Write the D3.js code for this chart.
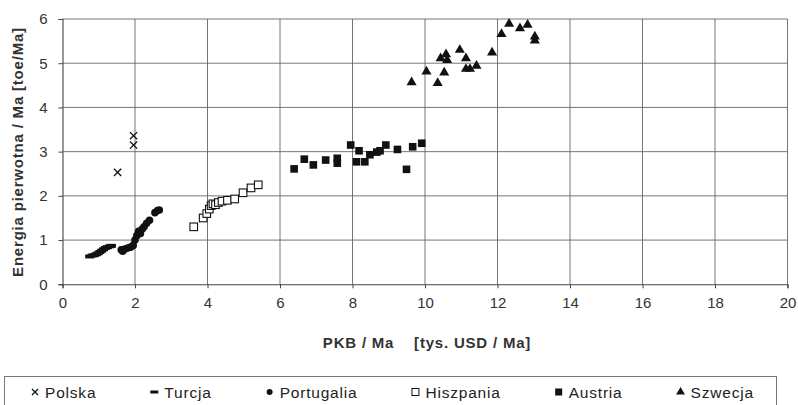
<!DOCTYPE html>
<html>
<head>
<meta charset="utf-8">
<script src="https://cdn.jsdelivr.net/npm/d3@7"></script>
<style>
  body { margin: 0; background: #fff; }
  svg { display: block; font-family: "Liberation Sans", Arial, sans-serif; }
</style>
</head>
<body>
<div id="chart"></div>
<script>
////////////////////////////  Data  ////////////////////////////
const seriesNames = ["Polska", "Turcja", "Portugalia", "Hiszpania", "Austria", "Szwecja"];

// [PKB, energia] per country
const polska = [[1.52, 2.53], [1.96, 3.15], [1.96, 3.36]];
const turcja = [
  [0.75, 0.63], [0.82, 0.65], [0.88, 0.66], [0.93, 0.68], [0.98, 0.70], [1.03, 0.73],
  [1.08, 0.76], [1.13, 0.79], [1.18, 0.82], [1.24, 0.84], [1.30, 0.86], [1.35, 0.87]
];
const portugalia = [
  [1.62, 0.78], [1.66, 0.75], [1.72, 0.80], [1.80, 0.82], [1.88, 0.84], [1.95, 0.88],
  [2.00, 1.00], [2.05, 1.10], [2.10, 1.20], [2.15, 1.15], [2.20, 1.25], [2.25, 1.30],
  [2.32, 1.38], [2.40, 1.45], [2.55, 1.62], [2.62, 1.67], [2.67, 1.68]
];
const hiszpania = [
  [3.62, 1.30], [3.88, 1.50], [3.98, 1.60], [4.05, 1.70], [4.10, 1.78], [4.15, 1.82],
  [4.22, 1.80], [4.30, 1.85], [4.40, 1.88], [4.55, 1.90], [4.75, 1.93], [4.98, 2.07],
  [5.20, 2.18], [5.40, 2.25]
];
const austria = [
  [6.39, 2.61], [6.67, 2.83], [6.92, 2.70], [7.26, 2.81], [7.58, 2.85], [7.58, 2.74],
  [7.95, 3.15], [8.18, 3.02], [8.11, 2.77], [8.34, 2.77], [8.48, 2.93], [8.67, 2.99],
  [8.76, 3.02], [8.92, 3.15], [9.24, 3.05], [9.49, 2.60], [9.66, 3.11], [9.91, 3.19]
];
const szwecja = [
  [9.63, 4.57], [10.04, 4.81], [10.35, 4.55], [10.53, 4.79], [10.43, 5.11], [10.58, 5.20],
  [10.61, 5.07], [10.96, 5.30], [11.13, 5.11], [11.13, 4.87], [11.24, 4.87], [11.42, 4.94],
  [11.85, 5.24], [12.11, 5.66], [12.32, 5.89], [12.62, 5.79], [12.83, 5.87], [13.03, 5.60],
  [13.03, 5.51]
];

const xTicks = [0, 2, 4, 6, 8, 10, 12, 14, 16, 18, 20];
const yTicks = [0, 1, 2, 3, 4, 5, 6];
const xTitle = "PKB / Ma\u00a0\u00a0\u00a0\u00a0[tys. USD / Ma]";
const yTitle = "Energia pierwotna / Ma [toe/Ma]";

////////////////////////////  Init  ////////////////////////////
const width = 798, height = 405;
const margin = { top: 19, right: 10.5, bottom: 120.7, left: 62.5 };
const innerW = width - margin.left - margin.right;
const innerH = height - margin.top - margin.bottom;
const ink = "#111";

const svg = d3.select("#chart").append("svg").attr("width", width).attr("height", height);
const g = svg.append("g").attr("transform", `translate(${margin.left},${margin.top})`);

const x = d3.scaleLinear().domain([0, 20]).range([0, innerW]);
const y = d3.scaleLinear().domain([0, 6]).range([innerH, 0]);

// grid
g.selectAll(".vgrid").data(xTicks.slice(1)).enter().append("line")
  .attr("x1", d => x(d)).attr("x2", d => x(d))
  .attr("y1", 0).attr("y2", innerH)
  .attr("stroke", "#666").attr("stroke-width", 0.9);
g.selectAll(".hgrid").data(yTicks.slice(1)).enter().append("line")
  .attr("x1", 0).attr("x2", innerW)
  .attr("y1", d => y(d)).attr("y2", d => y(d))
  .attr("stroke", "#666").attr("stroke-width", 0.9);

// axes
const xAxis = g.append("g").attr("transform", `translate(0,${innerH})`)
  .call(d3.axisBottom(x).tickValues(xTicks).tickFormat(d3.format("d")).tickSize(4).tickPadding(9));
const yAxis = g.append("g")
  .call(d3.axisLeft(y).tickValues(yTicks).tickFormat(d3.format("d")).tickSize(4).tickPadding(11));
[xAxis, yAxis].forEach(a => {
  a.select(".domain").attr("stroke", "#444").attr("stroke-width", 1.1);
  a.selectAll(".tick line").attr("stroke", "#444");
  a.selectAll("text").attr("font-size", 15).attr("fill", "#333")
    .attr("font-family", "Liberation Sans, Arial, sans-serif");
});

// titles
svg.append("text")
  .attr("x", 427).attr("y", 348)
  .attr("text-anchor", "middle")
  .attr("font-size", 15).attr("font-weight", "bold").attr("letter-spacing", 0.8).attr("fill", "#333")
  .text(xTitle);
svg.append("text")
  .attr("transform", `translate(23,152) rotate(-90)`)
  .attr("text-anchor", "middle")
  .attr("font-size", 15).attr("font-weight", "bold").attr("letter-spacing", 0.8).attr("fill", "#333")
  .text(yTitle);

////////////////////////////  Markers  ////////////////////////////
const drawX = (sel, s) => sel.append("path")
  .attr("d", `M${-s},${-s}L${s},${s}M${-s},${s}L${s},${-s}`)
  .attr("stroke", ink).attr("stroke-width", 1.3).attr("fill", "none");
const drawDash = (sel) => sel.append("rect")
  .attr("x", -4.5).attr("y", -2).attr("width", 9).attr("height", 4).attr("fill", ink);
const drawCircle = (sel) => sel.append("circle").attr("r", 3.8).attr("fill", ink);
const drawOpenSq = (sel) => sel.append("rect")
  .attr("x", -3.8).attr("y", -3.8).attr("width", 7.6).attr("height", 7.6)
  .attr("fill", "#fff").attr("stroke", ink).attr("stroke-width", 1.1);
const drawSq = (sel) => sel.append("rect")
  .attr("x", -3.8).attr("y", -3.8).attr("width", 7.6).attr("height", 7.6).attr("fill", ink);
const drawTri = (sel) => sel.append("path")
  .attr("d", d3.symbol(d3.symbolTriangle, 44)()).attr("fill", ink);

const series = [
  { name: seriesNames[0], data: polska, draw: s => drawX(s, 3.6), legend: s => drawX(s, 3) },
  { name: seriesNames[1], data: turcja, draw: drawDash, legend: s => s.append("rect").attr("x", -4).attr("y", -1.5).attr("width", 8).attr("height", 3).attr("fill", ink) },
  { name: seriesNames[2], data: portugalia, draw: drawCircle, legend: s => s.append("circle").attr("r", 3).attr("fill", ink) },
  { name: seriesNames[3], data: hiszpania, draw: drawOpenSq, legend: s => s.append("rect").attr("x", -3.5).attr("y", -3.5).attr("width", 7).attr("height", 7).attr("fill", "#fff").attr("stroke", ink) },
  { name: seriesNames[4], data: austria, draw: drawSq, legend: s => s.append("rect").attr("x", -3.5).attr("y", -3.5).attr("width", 7).attr("height", 7).attr("fill", ink) },
  { name: seriesNames[5], data: szwecja, draw: drawTri, legend: s => s.append("path").attr("d", d3.symbol(d3.symbolTriangle, 34)()).attr("fill", ink) }
];

series.forEach(s => {
  g.selectAll(null).data(s.data).enter().append("g")
    .attr("transform", d => `translate(${x(d[0])},${y(d[1])})`)
    .each(function () { s.draw(d3.select(this)); });
});

////////////////////////////  Legend  ////////////////////////////
svg.append("rect")
  .attr("x", 4.5).attr("y", 376.5).attr("width", 772).attr("height", 40)
  .attr("fill", "#fff").attr("stroke", "#777").attr("stroke-width", 1);

let lx = 35;
series.forEach(s => {
  const item = svg.append("g").attr("transform", `translate(${lx},392)`);
  s.legend(item);
  const t = item.append("text").attr("x", 10).attr("y", 5.5)
    .attr("font-size", 15.5).attr("letter-spacing", 0.8).attr("fill", "#222")
    .text(s.name);
  lx += 10 + t.node().getComputedTextLength() + 58;
});
</script>
</body>
</html>
